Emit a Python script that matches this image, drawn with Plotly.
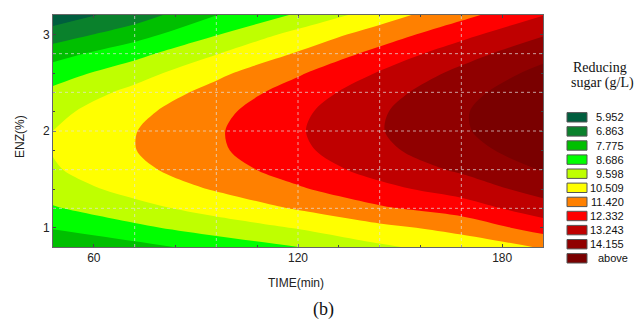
import plotly.graph_objects as go

# ---- data ----
TIME = [48, 72, 96, 120, 144, 168, 192]            # min
ENZ = [0.8, 1.0, 1.2, 1.4, 1.6, 1.8, 2.0, 2.2, 2.4, 2.6, 2.8, 3.0, 3.2]  # %
# reducing sugar (g/L), one row per ENZ value, one column per TIME value
SUGAR = [
    [6.95, 7.48, 8.10, 8.68, 9.45, 10.02, 10.58],
    [7.85, 8.49, 9.12, 9.66, 10.29, 10.78, 11.84],
    [8.60, 9.30, 9.95, 10.59, 11.29, 11.86, 12.83],
    [9.15, 9.90, 10.59, 11.31, 12.08, 12.72, 13.62],
    [9.50, 10.30, 11.03, 11.83, 12.67, 13.38, 14.22],
    [9.65, 10.49, 11.28, 12.14, 13.04, 13.82, 14.64],
    [9.60, 10.48, 11.32, 12.24, 13.19, 14.05, 14.86],
    [9.35, 10.27, 11.18, 12.14, 13.14, 14.07, 14.90],
    [8.90, 9.85, 10.83, 11.83, 12.88, 13.88, 14.75],
    [8.25, 9.22, 10.30, 11.31, 12.40, 13.48, 14.41],
    [7.40, 8.40, 9.56, 10.59, 11.72, 12.87, 13.88],
    [6.35, 7.37, 8.63, 9.90, 10.90, 12.05, 13.16],
    [5.44, 6.39, 7.76, 8.80, 10.10, 11.15, 12.30],
]
LEVELS = [5.952, 6.863, 7.775, 8.686, 9.598, 10.509, 11.420, 12.332, 13.243, 14.155]
LEGEND_LABELS = ["5.952", "6.863", "7.775", "8.686", "9.598", "10.509",
                 "11.420", "12.332", "13.243", "14.155", "above"]
X_TICKS = [60, 120, 180]
Y_TICKS = [1, 2, 3]
X_GRID = [72, 96, 120, 144, 168]
Y_GRID = [1.2, 1.6, 2.0, 2.4, 2.8]

# ---- styles ----
COLORS = ["#005e3e", "#0a812c", "#00bf00", "#00ff00", "#bfff00", "#ffff00",
          "#ff8000", "#ff0000", "#bf0000", "#900000", "#7a0000"]
W, H = 634, 320
ML, MR, MT, MB = 53, 91, 15, 73
PW, PH = W - ML - MR, H - MT - MB


def px2x(px):
    return (px - ML) / PW


def py2y(py):
    return (H - MB - py) / PH


n = len(COLORS)
colorscale = [[i / (n - 1), c] for i, c in enumerate(COLORS)]

fig = go.Figure()
fig.add_trace(go.Contour(
    x=TIME, y=ENZ, z=SUGAR,
    colorscale=colorscale, showscale=False,
    autocontour=False,
    contours=dict(start=LEVELS[0], end=LEVELS[-1],
                  size=(LEVELS[-1] - LEVELS[0]) / (len(LEVELS) - 1),
                  coloring="fill", showlines=False),
    line=dict(width=0, smoothing=0.9),
    hoverinfo="skip",
))

grid_line = dict(color="rgba(225,225,225,0.7)", width=1, dash="dot")
for v in X_GRID:
    fig.add_vline(x=v, line=grid_line, layer="above")
for v in Y_GRID:
    fig.add_hline(y=v, line=grid_line, layer="above")

axis_font = dict(family="Liberation Sans, Arial, sans-serif", size=12, color="#222")
fig.update_xaxes(range=[TIME[0], TIME[-1]], tickvals=X_TICKS, showgrid=False,
                 zeroline=False, showline=True, linecolor="#666", linewidth=1,
                 mirror="allticks", ticks="inside", ticklen=3, tickcolor="#444",
                 tickfont=axis_font,
                 minor=dict(dtick=12, tick0=48, ticks="inside", ticklen=2,
                            tickcolor="#444", showgrid=False))
fig.update_yaxes(range=[ENZ[0], ENZ[-1]], tickvals=Y_TICKS, showgrid=False,
                 zeroline=False, showline=True, linecolor="#666", linewidth=1,
                 mirror="allticks", ticks="inside", ticklen=3, tickcolor="#444",
                 tickfont=axis_font,
                 minor=dict(dtick=0.2, tick0=0.8, ticks="inside", ticklen=2,
                            tickcolor="#444", showgrid=False))

annotations = [
    dict(text="TIME(min)", x=px2x(296), y=py2y(283), xref="paper", yref="paper",
         showarrow=False, font=axis_font, xanchor="center", yanchor="middle"),
    dict(text="ENZ(%)", x=px2x(20), y=py2y(137), xref="paper", yref="paper",
         showarrow=False, font=axis_font, textangle=-90,
         xanchor="center", yanchor="middle"),
    dict(text="(b)", x=px2x(323), y=py2y(309), xref="paper", yref="paper",
         showarrow=False, xanchor="center", yanchor="middle",
         font=dict(family="Liberation Serif, Times New Roman, serif", size=18, color="#111")),
    dict(text="Reducing", x=px2x(600), y=py2y(67), xref="paper", yref="paper",
         showarrow=False, xanchor="center", yanchor="middle",
         font=dict(family="Liberation Serif, Times New Roman, serif", size=14, color="#111")),
    dict(text="sugar (g/L)", x=px2x(602), y=py2y(83), xref="paper", yref="paper",
         showarrow=False, xanchor="center", yanchor="middle",
         font=dict(family="Liberation Serif, Times New Roman, serif", size=14, color="#111")),
]
shapes = []
leg_font = dict(family="Liberation Sans, Arial, sans-serif", size=11, color="#111")
for i, (c, lab) in enumerate(zip(COLORS, LEGEND_LABELS)):
    cy = 117.3 + 14.1 * i
    shapes.append(dict(type="rect", xref="paper", yref="paper",
                       x0=px2x(567), x1=px2x(587), y0=py2y(cy + 4.7), y1=py2y(cy - 4.7),
                       fillcolor=c, line=dict(color="#555", width=1)))
    if lab == "above":
        annotations.append(dict(text=lab, x=px2x(596), y=py2y(cy), xref="paper", yref="paper",
                                showarrow=False, xanchor="left", yanchor="middle", font=leg_font))
    else:
        annotations.append(dict(text=lab, x=px2x(626), y=py2y(cy), xref="paper", yref="paper",
                                showarrow=False, xanchor="right", yanchor="middle", font=leg_font))

fig.update_layout(width=W, height=H, margin=dict(l=ML, r=MR, t=MT, b=MB),
                  paper_bgcolor="white", plot_bgcolor="white",
                  annotations=annotations)
for s in shapes:
    fig.add_shape(**s)

fig.write_html("out.html", config={"displayModeBar": False},
               post_script="document.body.style.margin='0px';document.body.style.overflow='hidden';")
